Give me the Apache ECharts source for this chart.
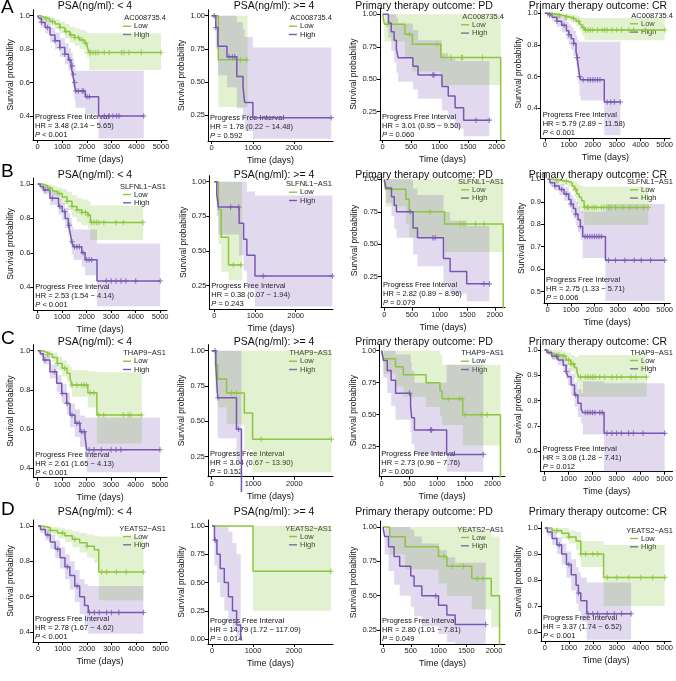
<!DOCTYPE html>
<html><head><meta charset="utf-8">
<script src="https://cdn.jsdelivr.net/npm/echarts@6/dist/echarts.min.js"></script>
<style>html,body{margin:0;padding:0;background:#fff}#c{width:676px;height:681px}</style>
</head><body><div id="c"></div>
<script>
// ---------- DATA: [time, survival, lower CI, upper CI] ----------
const rowGenes = ['AC008735.4', 'SLFNL1\u2212AS1', 'THAP9\u2212AS1', 'YEATS2\u2212AS1'];
const colTitles = ['PSA(ng/ml): < 4', 'PSA(ng/ml): >= 4', 'Primary therapy outcome: PD', 'Primary therapy outcome: CR'];
const rowLetters = ['A', 'B', 'C', 'D'];
const hrTexts = [
  'HR = 3.48 (2.14 \u2212 5.65)', 'HR = 1.78 (0.22 \u2212 14.48)', 'HR = 3.01 (0.95 \u2212 9.50)', 'HR = 5.79 (2.89 \u2212 11.58)',
  'HR = 2.53 (1.54 \u2212 4.14)', 'HR = 0.38 (0.07 \u2212 1.94)', 'HR = 2.82 (0.89 \u2212 8.96)', 'HR = 2.75 (1.33 \u2212 5.71)',
  'HR = 2.61 (1.65 \u2212 4.13)', 'HR = 3.04 (0.67 \u2212 13.90)', 'HR = 2.73 (0.96 \u2212 7.76)', 'HR = 3.08 (1.28 \u2212 7.41)',
  'HR = 2.78 (1.67 \u2212 4.62)', 'HR = 14.79 (1.72 \u2212 117.09)', 'HR = 2.80 (1.01 \u2212 7.81)', 'HR = 3.37 (1.74 \u2212 6.52)'];
const pTexts = ['< 0.001', '= 0.592', '= 0.060', '< 0.001', '< 0.001', '= 0.243', '= 0.079', '= 0.006',
  '< 0.001', '= 0.152', '= 0.060', '= 0.012', '< 0.001', '= 0.014', '= 0.049', '< 0.001'];
const yTicks = [
  [0.4,0.6,0.8,1.0],[0.25,0.5,0.75,1],[0.25,0.5,0.75,1],[0.4,0.6,0.8,1.0],
  [0.4,0.6,0.8,1.0],[0.25,0.5,0.75,1],[0.25,0.5,0.75,1],[0.5,0.6,0.7,0.8,0.9,1.0],
  [0.4,0.6,0.8,1.0],[0.25,0.5,0.75,1],[0.25,0.5,0.75,1],[0.6,0.7,0.8,0.9,1.0],
  [0.4,0.6,0.8,1.0],[0,0.25,0.5,0.75,1],[0.25,0.5,0.75,1],[0.6,0.7,0.8,0.9,1.0]];
const yDecimals = [1,2,2,1, 1,2,2,1, 1,2,2,1, 1,2,2,1];
const xTicks = [[0,1000,2000,3000,4000,5000],[0,1000,2000],[0,500,1000,1500,2000],[0,1000,2000,3000,4000,5000]];

const A1_low = [[0,1,1,1],[100,.99,.975,1],[300,.98,.96,1],[500,.965,.94,.99],[700,.95,.92,.98],[900,.93,.895,.965],[1100,.905,.865,.95],[1300,.885,.84,.935],[1500,.87,.82,.925],[1700,.855,.8,.915],[1900,.835,.77,.905],[2000,.82,.75,.9],[2080,.78,.675,.895],[5000,.78,.675,.895]];
const A1_high = [[0,1,1,1],[50,.985,.965,1],[150,.96,.93,.99],[300,.93,.895,.97],[500,.885,.84,.93],[700,.85,.8,.9],[900,.81,.755,.865],[1100,.77,.71,.835],[1250,.735,.67,.805],[1350,.7,.63,.78],[1420,.65,.57,.74],[1480,.6,.5,.7],[1530,.55,.45,.67],[1930,.515,.41,.67],[2470,.4,.265,.67],[4300,.4,.265,.67]];
const A1_lowCens = [350,600,900,1150,1350,1500,1650,1800,1950,2100,2150,2250,2350,2450,2700,2900,3400,3500,3700,4200,5000];
const A1_highCens = [150,400,700,900,1100,1300,1400,1450,1500,1550,1650,1800,1850,2000,2100,2700,2900,3050,3200,3300,4300];

const A2_low = [[0,1,1,1],[160,.667,.31,1],[870,.667,.31,1]];
const A2_high = [[0,1,1,1],[100,.91,.75,1],[150,.77,.55,1],[370,.69,.46,1],[610,.54,.3,.95],[760,.46,.22,.9],[800,.345,.13,.84],[1000,.23,.07,.76],[2900,.23,.07,.76]];
const A2_lowCens = [700,850];
const A2_highCens = [60,100,420,500,560,2900];

const A3_low = [[0,1,1,1],[30,.923,.79,1],[390,.846,.67,1],[520,.769,.56,1],[1020,.667,.455,1],[2070,0,0,0]];
const A3_high = [[0,1,1,1],[100,.933,.82,1],[150,.866,.72,1],[200,.8,.63,1],[240,.733,.55,.97],[270,.666,.48,.93],[530,.6,.42,.88],[620,.533,.35,.8],[1040,.444,.26,.7],[1150,.37,.19,.66],[1270,.28,.12,.64],[1420,.185,.06,.64],[1870,.185,.06,.64]];
const A3_lowCens = [80,470,950,1200,1380,1400,1750];
const A3_highCens = [880,900,1640,1870];

const A4_low = [[0,1,1,1],[200,.995,.985,1],[500,.985,.97,1],[800,.975,.955,.995],[1100,.965,.94,.99],[1300,.95,.92,.985],[1450,.93,.89,.975],[1550,.91,.86,.97],[1650,.895,.83,.97],[5000,.895,.83,.97]];
const A4_high = [[0,1,1,1],[100,.99,.975,1],[300,.975,.95,1],[500,.95,.915,.985],[700,.925,.88,.97],[900,.89,.835,.945],[1000,.865,.8,.93],[1100,.84,.77,.91],[1200,.81,.73,.89],[1300,.76,.67,.86],[1350,.72,.62,.83],[1400,.66,.55,.82],[1450,.6,.48,.82],[1500,.58,.45,.82],[2480,.44,.23,.82],[3150,.44,.23,.82]];
const A4_lowCens = [300,600,900,1200,1400,1600,1700,1800,1900,2000,2200,2400,2500,2600,2800,3000,3200,3500,3700,4200,5000];
const A4_highCens = [200,500,800,1000,1200,1350,1450,1600,1800,1900,2000,2100,2200,2300,2600,2750,2900,3150];

const B1_low = [[0,1,1,1],[200,.99,.975,1],[400,.975,.955,.995],[600,.96,.935,.99],[800,.945,.91,.98],[1000,.925,.885,.97],[1200,.9,.85,.955],[1400,.87,.81,.935],[1600,.85,.78,.92],[1800,.835,.76,.91],[2050,.82,.74,.9],[2150,.777,.675,.875],[4300,.777,.675,.875]];
const B1_high = [[0,1,1,1],[100,.985,.97,1],[230,.965,.94,.99],[500,.917,.88,.955],[850,.87,.825,.915],[1000,.84,.79,.89],[1120,.8,.745,.86],[1250,.76,.7,.83],[1320,.72,.65,.8],[1390,.665,.59,.75],[1460,.636,.56,.735],[1800,.6,.52,.735],[1935,.56,.47,.735],[2420,.437,.29,.655],[5000,.437,.29,.655]];
const B1_lowCens = [500,900,1200,1400,1600,1800,1950,2050,2200,2300,2400,2500,2700,3200,3500,4300];
const B1_highCens = [300,600,900,1100,1300,1400,1500,1600,1700,1850,2000,2100,2200,2800,3000,3200,3400,3600,4000,5000];

const B2_low = [[0,1,1,1],[100,.8,.55,1],[170,.6,.35,1],[350,.4,.29,1],[680,.4,.29,1]];
const B2_high = [[0,1,1,1],[60,.909,.75,1],[100,.818,.62,1],[610,.7,.47,1],[720,.585,.36,1],[800,.47,.23,.93],[1000,.32,.1,.9],[2900,.32,.1,.9]];
const B2_lowCens = [470,650];
const B2_highCens = [400,600,1200,2900];

const B3_low = [[0,1,1,1],[20,.923,.79,1],[390,.846,.66,1],[450,.75,.55,1],[1090,.656,.44,1],[2150,0,0,0]];
const B3_high = [[0,1,1,1],[30,.933,.82,1],[130,.866,.72,1],[180,.8,.62,1],[220,.75,.55,1],[520,.625,.42,.93],[600,.55,.33,.88],[1070,.39,.19,.75],[1190,.29,.12,.68],[1490,.195,.06,.64],[1900,.195,.06,.64]];
const B3_lowCens = [830,1380,1440,1650,1800];
const B3_highCens = [470,880,920,1800,1900];

const B4_low = [[0,1,1,1],[300,.995,.985,1],[600,.99,.975,1],[900,.985,.965,1],[1050,.97,.945,.995],[1150,.955,.92,.99],[1250,.935,.89,.98],[1350,.92,.87,.975],[1450,.905,.85,.97],[1560,.875,.797,.967],[4300,.875,.797,.967]];
const B4_high = [[0,1,1,1],[100,.985,.97,1],[300,.97,.95,.99],[500,.955,.93,.98],[700,.935,.905,.965],[900,.91,.875,.945],[1000,.89,.85,.93],[1100,.87,.825,.915],[1200,.845,.795,.9],[1300,.82,.765,.88],[1400,.79,.73,.86],[1500,.745,.65,.856],[2470,.64,.46,.89],[5000,.64,.46,.89]];
const B4_lowCens = [400,800,1200,1600,1700,1750,1900,2000,2100,2300,2400,2600,2700,2900,3200,3500,3800,4100,4300];
const B4_highCens = [300,600,800,1000,1200,1400,1600,1700,1800,1900,2000,2100,2200,2300,2600,2900,3300,3700,4000,4400,5000];

const C1_low = [[0,1,1,1],[200,.99,.975,1],[400,.98,.96,1],[600,.965,.94,.99],[800,.935,.9,.97],[1000,.91,.87,.95],[1200,.885,.84,.93],[1320,.86,.81,.915],[1400,.825,.765,.9],[2050,.785,.71,.895],[2420,.672,.527,.89],[4250,.672,.527,.89]];
const C1_high = [[0,1,1,1],[100,.985,.97,1],[230,.952,.93,.975],[500,.893,.86,.93],[775,.834,.79,.875],[980,.782,.73,.83],[1185,.731,.675,.785],[1320,.672,.61,.73],[1525,.63,.56,.7],[1730,.587,.51,.67],[1935,.56,.475,.66],[2000,.495,.38,.658],[5000,.495,.38,.658]];
const C1_lowCens = [400,800,1100,1400,1600,1800,1900,2000,2150,2300,2500,2700,3500,3700,3800,4250];
const C1_highCens = [300,700,1000,1200,1400,1600,1700,1800,1900,2100,2300,2600,3000,3200,3400,5000];

const C2_low = [[0,1,1,1],[90,.9,.73,1],[145,.8,.6,1],[360,.7,.48,1],[790,.56,.3,1],[990,.373,.14,1],[2900,.373,.14,1]];
const C2_high = [[0,1,1,1],[100,.889,.7,1],[145,.667,.38,1],[600,.444,.2,1],[720,0,0,0]];
const C2_lowCens = [480,600,1200,2900];
const C2_highCens = [80,150,650];

const C3_low = [[0,1,1,1],[30,.9375,.82,1],[250,.875,.72,1],[390,.8125,.64,1],[800,.75,.56,1],[1050,.6875,.49,.97],[1090,.625,.42,.89],[1460,.5,.26,.89],[2140,0,0,0]];
const C3_high = [[0,1,1,1],[30,.923,.79,1],[100,.846,.67,1],[170,.77,.57,1],[250,.667,.46,.97],[520,.571,.36,.91],[540,.476,.27,.84],[590,.381,.19,.75],[1170,.19,.055,.89],[1830,.19,.055,.89]];
const C3_lowCens = [1200,1400,1450,1500,1800,1900];
const C3_highCens = [500,880,900,1830];

const C4_low = [[0,1,1,1],[150,.99,.98,1],[300,.98,.965,1],[750,.975,.955,.995],[900,.96,.935,.99],[1100,.945,.915,.98],[1250,.93,.89,.975],[1350,.915,.87,.97],[1420,.893,.815,.98],[4250,.893,.815,.98]];
const C4_high = [[0,1,1,1],[100,.99,.98,1],[300,.975,.96,.99],[560,.96,.94,.98],[780,.94,.915,.965],[900,.915,.885,.945],[980,.894,.86,.93],[1110,.861,.82,.905],[1250,.822,.775,.87],[1390,.789,.735,.845],[1525,.766,.71,.83],[1600,.752,.665,.875],[2480,.67,.518,.868],[5000,.67,.518,.868]];
const C4_lowCens = [400,600,800,1000,1100,1200,1500,1700,1800,1900,2000,2100,2300,2500,2800,3000,3200,3600,3800,4250];
const C4_highCens = [500,900,1300,1700,1800,1900,2000,2100,2300,2400,2600,2800,3000,3200,3500,3700,4100,5000];

const D1_low = [[0,1,1,1],[200,.99,.98,1],[500,.975,.955,.995],[800,.96,.93,.99],[1100,.945,.91,.98],[1400,.925,.88,.97],[1700,.905,.85,.96],[2000,.885,.82,.95],[2300,.865,.79,.945],[2480,.74,.58,.94],[4300,.74,.58,.94]];
const D1_high = [[0,1,1,1],[100,.98,.96,1],[300,.95,.92,.98],[500,.91,.87,.95],[700,.87,.82,.92],[900,.82,.76,.88],[1100,.77,.7,.84],[1300,.72,.64,.8],[1500,.66,.57,.75],[1700,.6,.5,.7],[1900,.55,.44,.67],[2050,.51,.39,.66],[4300,.51,.39,.66]];
const D1_lowCens = [500,1000,1500,2000,2600,2800,3200,3600,4300];
const D1_highCens = [400,800,1200,1600,2100,2300,2500,2800,3000,3300,4300];

const D2_low = [[0,1,1,1],[1000,.6,.25,1],[2900,.6,.25,1]];
const D2_high = [[0,1,1,1],[60,.875,.65,1],[120,.75,.5,1],[200,.625,.37,1],[300,.5,.25,1],[400,.375,.15,.95],[500,.25,.07,.85],[600,.125,.02,.75],[700,0,0,0]];
const D2_lowCens = [2900];
const D2_highCens = [80];

const D3_low = [[0,1,1,1],[120,.929,.8,1],[400,.857,.69,1],[1000,.786,.59,1],[1150,.714,.5,1],[1600,.625,.4,.98],[1950,.5,.27,.93],[2100,0,0,0]];
const D3_high = [[0,1,1,1],[30,.93,.8,1],[100,.857,.68,1],[200,.786,.58,1],[300,.714,.5,1],[500,.643,.42,.98],[560,.571,.35,.93],[700,.5,.28,.88],[1000,.43,.22,.83],[1150,.36,.16,.78],[1300,.29,.1,.74],[1850,.29,.1,.74]];
const D3_lowCens = [1100,1250,1450,1700,1800];
const D3_highCens = [950,1850];

const D4_low = [[0,1,1,1],[300,.99,.98,1],[700,.98,.96,1],[1000,.965,.94,.99],[1300,.95,.915,.985],[1500,.9,.85,.95],[2450,.81,.7,.935],[5000,.81,.7,.935]];
const D4_high = [[0,1,1,1],[100,.985,.97,1],[300,.96,.935,.985],[500,.935,.9,.965],[700,.9,.86,.94],[900,.86,.81,.91],[1100,.82,.76,.88],[1300,.78,.71,.85],[1400,.75,.68,.83],[1500,.72,.64,.81],[1750,.67,.57,.79],[3600,.67,.57,.79]];
const D4_lowCens = [500,1000,1500,1700,2000,2200,2600,3000,3500,4000,4500,5000];
const D4_highCens = [600,1000,1400,1800,2000,2200,2600,2900,3200,3600];

const panelCurves = [
  [A1_low,A1_high,A1_lowCens,A1_highCens],[A2_low,A2_high,A2_lowCens,A2_highCens],[A3_low,A3_high,A3_lowCens,A3_highCens],[A4_low,A4_high,A4_lowCens,A4_highCens],
  [B1_low,B1_high,B1_lowCens,B1_highCens],[B2_low,B2_high,B2_lowCens,B2_highCens],[B3_low,B3_high,B3_lowCens,B3_highCens],[B4_low,B4_high,B4_lowCens,B4_highCens],
  [C1_low,C1_high,C1_lowCens,C1_highCens],[C2_low,C2_high,C2_lowCens,C2_highCens],[C3_low,C3_high,C3_lowCens,C3_highCens],[C4_low,C4_high,C4_lowCens,C4_highCens],
  [D1_low,D1_high,D1_lowCens,D1_highCens],[D2_low,D2_high,D2_lowCens,D2_highCens],[D3_low,D3_high,D3_lowCens,D3_highCens],[D4_low,D4_high,D4_lowCens,D4_highCens]];

// ---------- LAYOUT (pixels): x0, px per 1000 days, axis left, plot right, y of top tick, y of bottom tick, axis bottom ----------
const LAYOUT = [
  [37.7,24.66,33,167, 15.7,116,140],[211.7,41.2,208,333, 15.7,115,141],[382.7,57,380,505, 14.3,111.7,140],[545,24.66,540.7,674, 13.3,108.3,138.3],
  [37.7,24.5,33.3,167, 184,287.3,310],[214.3,40.7,209.3,333, 181.7,285.7,309],[384.3,55.3,381,505, 179.3,276.7,307.7],[547.7,24.1,544,674, 179.3,291.7,303.3],
  [37.7,24.46,33.3,167, 350.7,468.3,477.7],[211.7,41.3,208,333, 350.7,456.7,476.7],[381.7,55.5,379.3,505, 350.7,446.7,476.7],[544.5,24.3,540.7,674, 350,451,471.7],
  [38,24.5,33,167, 526,632,642],[212,41,208,333, 526,639,644],[383,55.5,380,505, 527,630,644],[545,24.5,541,674, 528,632,641]];
const TITLE_X = [95, 274, 424, 598];
const TITLE_Y = [6, 175, 342, 512];
const LETTER_Y = [8, 172, 339, 510];
const NOCLIP_HIGH = [9];

const FONT = '"Liberation Sans", Arial, Helvetica, sans-serif';
const GREEN = '#8CC63E', PURPLE = '#7857B3';
const GREEN_BAND = 'rgba(140,198,62,0.25)', PURPLE_BAND = 'rgba(120,87,179,0.22)';
const CROSS = 'path://M4,0H6V10H4Z M0,4H10V6H0Z';

function survAt(curve, t) { let s = curve[0][1]; for (const p of curve) { if (p[0] <= t) s = p[1]; else break; } return s; }
function bandPoly(curve) {
  const up = [], dn = [];
  for (let i = 0; i < curve.length - 1; i++) {
    const t = curve[i][0], t2 = curve[i + 1][0];
    up.push([t, curve[i][3]], [t2, curve[i][3]]);
    dn.push([t, curve[i][2]], [t2, curve[i][2]]);
  }
  return up.concat(dn.reverse());
}
const clamp = (v, a, b) => Math.max(a, Math.min(b, v));

const grids = [], xAxes = [], yAxes = [], series = [], elements = [];
LAYOUT.forEach((L, i) => {
  const [x0, kx, xl, xr, yT, yB, yb] = L;
  const row = Math.floor(i / 4), col = i % 4;
  const ticks = yTicks[i];
  const vTop = ticks[ticks.length - 1], vBot = ticks[0];
  const ky = (yB - yT) / (vTop - vBot);
  const yt = yT - 6;
  const xmin = (xl - x0) / kx * 1000, xmax = (xr - x0) / kx * 1000;
  const ymin = vBot - (yb - yB) / ky, ymax = vTop + (yT - yt) / ky;
  grids.push({ left: xl, top: yt, width: xr - xl, height: yb - yt });
  const dec = yDecimals[i];
  xAxes.push({
    type: 'value', gridIndex: i, min: xmin, max: xmax,
    axisLine: { show: true, onZero: false, lineStyle: { color: '#000', width: 1 } },
    axisTick: { show: true, length: 3, inside: false, lineStyle: { color: '#000', width: 1 }, customValues: xTicks[col] },
    axisLabel: { customValues: xTicks[col], fontSize: 7.5, color: '#222', margin: 3, fontFamily: FONT, formatter: v => String(Math.round(v)) },
    splitLine: { show: false },
    name: 'Time (days)', nameLocation: 'middle', nameGap: 15,
    nameTextStyle: { fontSize: 9, color: '#111', fontFamily: FONT }
  });
  yAxes.push({
    type: 'value', gridIndex: i, min: ymin, max: ymax,
    axisLine: { show: true, onZero: false, lineStyle: { color: '#000', width: 1 } },
    axisTick: { show: true, length: 3, lineStyle: { color: '#000', width: 1 }, customValues: ticks },
    axisLabel: { customValues: ticks, fontSize: 7.5, color: '#222', margin: 3, fontFamily: FONT, formatter: v => Number(v).toFixed(dec) },
    splitLine: { show: false },
    name: 'Survival probability', nameLocation: 'middle', nameGap: 18,
    nameTextStyle: { fontSize: 8.5, color: '#111', fontFamily: FONT }
  });
  const [low, high, lowC, highC] = panelCurves[i];
  [[low, GREEN_BAND], [high, PURPLE_BAND]].forEach(([curve, fill], k) => {
    const poly = bandPoly(curve);
    series.push({
      type: 'custom', xAxisIndex: i, yAxisIndex: i, data: [[0, 0]], silent: true, z: 1 + k,
      renderItem: (params, api) => ({
        type: 'polygon',
        shape: { points: poly.map(q => api.coord([clamp(q[0], xmin, xmax), clamp(q[1], ymin, ymax)])) },
        style: { fill: fill }
      })
    });
  });
  [[low, lowC, GREEN, 'Low'], [high, highC, PURPLE, 'High']].forEach(([curve, cens, color, nm]) => {
    series.push({
      type: 'line', name: nm, step: 'end', xAxisIndex: i, yAxisIndex: i,
      data: curve.map(p => [p[0], p[1]]), showSymbol: false, symbol: 'none', silent: true,
      lineStyle: { color: color, width: 1.5 }, itemStyle: { color: color }, z: 5,
      clip: !(nm === 'High' && NOCLIP_HIGH.includes(i))
    });
    series.push({
      type: 'scatter', xAxisIndex: i, yAxisIndex: i, silent: true, z: 6,
      data: cens.map(t => [t, survAt(curve, t)]), symbol: CROSS, symbolSize: 5.5,
      itemStyle: { color: color }
    });
  });
  // panel title
  elements.push({ type: 'text', x: TITLE_X[col], y: TITLE_Y[row], style: { text: colTitles[col], fontSize: 10.5, fontFamily: FONT, fill: '#111', align: 'center', verticalAlign: 'middle' } });
  // legend
  const lgX = xr - 44;
  elements.push({ type: 'text', x: xr - 1, y: yT + 2.5, style: { text: rowGenes[row], fontSize: 7.5, fontFamily: FONT, fill: '#222', align: 'right', verticalAlign: 'middle' } });
  [['Low', GREEN, 10.5], ['High', PURPLE, 18.8]].forEach(([lab, c, dy]) => {
    elements.push({ type: 'line', shape: { x1: lgX, y1: yT + dy, x2: lgX + 8, y2: yT + dy }, style: { stroke: c, lineWidth: 1.4 } });
    elements.push({ type: 'text', x: lgX + 11, y: yT + dy, style: { text: lab, fontSize: 7.5, fontFamily: FONT, fill: '#222', align: 'left', verticalAlign: 'middle' } });
  });
  // annotation
  const ax = xl + 2;
  elements.push({ type: 'text', x: ax, y: yb - 23, style: { text: 'Progress Free Interval', fontSize: 7.5, fontFamily: FONT, fill: '#111', align: 'left', verticalAlign: 'middle' } });
  elements.push({ type: 'text', x: ax, y: yb - 14, style: { text: hrTexts[i], fontSize: 7.5, fontFamily: FONT, fill: '#111', align: 'left', verticalAlign: 'middle' } });
  elements.push({ type: 'text', x: ax, y: yb - 5, style: { text: '{i|P} ' + pTexts[i], fontSize: 7.5, fontFamily: FONT, fill: '#111', align: 'left', verticalAlign: 'middle',
    rich: { i: { fontStyle: 'italic', fontSize: 7.5, fontFamily: FONT, fill: '#111' } } } });
});
rowLetters.forEach((L, r) => {
  elements.push({ type: 'text', x: 1, y: LETTER_Y[r], style: { text: L, fontSize: 19, fontFamily: FONT, fill: '#000', align: 'left', verticalAlign: 'middle' } });
});

const chart = echarts.init(document.getElementById('c'), null, { renderer: 'canvas' });
chart.setOption({
  animation: false, backgroundColor: '#fff',
  grid: grids, xAxis: xAxes, yAxis: yAxes, series: series,
  graphic: { elements: elements }
});
</script></body></html>
